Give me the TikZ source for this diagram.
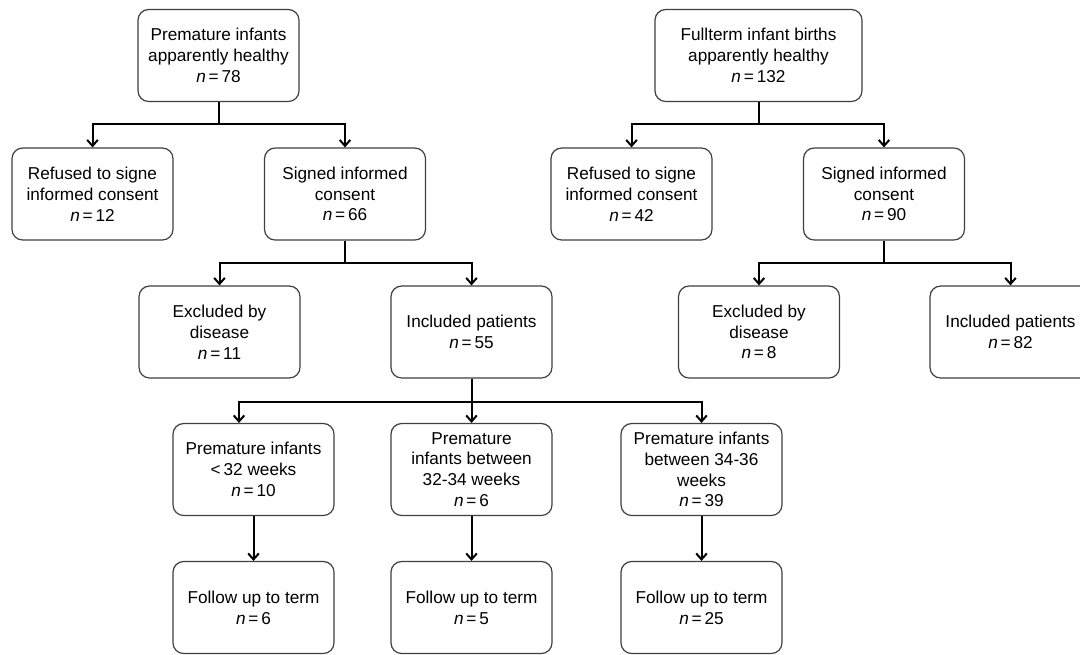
\documentclass[tikz,border=0pt]{standalone}
\usepackage{fontspec}
\setmainfont{Liberation Sans}
\usetikzlibrary{arrows.meta,calc}
\begin{document}
\begin{tikzpicture}[x=0.75pt,y=-0.75pt,
  flowbox/.style={draw=black!75,line width=0.9pt,rounded corners=8pt,
    minimum width=120.75pt,minimum height=69pt,align=center,inner sep=2pt,
    font=\fontsize{12.9}{15.6}\selectfont},
  conn/.style={line width=1.5pt,-{Straight Barb[length=4.5pt,width=8pt]}}]
\clip (0,0) rectangle (1080,654);
\fill[white] (0,0) rectangle (1080,654);
% row 1
\node[flowbox] (b1) at (218.5,55.5) {Premature infants\\apparently healthy\\\textit{n}\,=\,78};
\node[flowbox,minimum width=155.25pt] (b2) at (758.5,55.5) {Fullterm infant births\\apparently healthy\\\textit{n}\,=\,132};
% row 2
\node[flowbox] (r1) at (92.5,194) {Refused to signe\\informed consent\\\textit{n}\,=\,12};
\node[flowbox] (s1) at (345,194) {Signed informed\\consent\\\textit{n}\,=\,66};
\node[flowbox] (r2) at (631.5,194) {Refused to signe\\informed consent\\\textit{n}\,=\,42};
\node[flowbox] (s2) at (884,194) {Signed informed\\consent\\\textit{n}\,=\,90};
% row 3
\node[flowbox] (e1) at (219.5,332) {Excluded by\\disease\\\textit{n}\,=\,11};
\node[flowbox] (i1) at (471.5,332) {Included patients\\\textit{n}\,=\,55};
\node[flowbox] (e2) at (759,332) {Excluded by\\disease\\\textit{n}\,=\,8};
\node[flowbox] (i2) at (1010.5,332) {Included patients\\\textit{n}\,=\,82};
% row 4
\node[flowbox] (p1) at (253.5,469.5) {Premature infants\\<\,32 weeks\\\textit{n}\,=\,10};
\node[flowbox] (p2) at (471.5,469.5) {Premature\\infants between\\32-34 weeks\\\textit{n}\,=\,6};
\node[flowbox] (p3) at (701.5,469.5) {Premature infants\\between 34-36\\weeks\\\textit{n}\,=\,39};
% row 5
\node[flowbox] (f1) at (253.5,607.5) {Follow up to term\\\textit{n}\,=\,6};
\node[flowbox] (f2) at (471.5,607.5) {Follow up to term\\\textit{n}\,=\,5};
\node[flowbox] (f3) at (701.5,607.5) {Follow up to term\\\textit{n}\,=\,25};
% connectors
\draw[conn] (b1.south) -- ++(0,22) -| (r1.north);
\draw[conn] (b1.south) -- ++(0,22) -| (s1.north);
\draw[conn] (b2.south) -- ++(0,22) -| (r2.north);
\draw[conn] (b2.south) -- ++(0,22) -| (s2.north);
\draw[conn] (s1.south) -- ++(0,22) -| (e1.north);
\draw[conn] (s1.south) -- ++(0,22) -| (i1.north);
\draw[conn] (s2.south) -- ++(0,22) -| (e2.north);
\draw[conn] (s2.south) -- ++(0,22) -| (i2.north);
\draw[conn] (i1.south) -- ++(0,23) -| ($(p1.north)+(-14.5,0)$);
\draw[conn] (i1.south) -- (p2.north);
\draw[conn] (i1.south) -- ++(0,23) -| (p3.north);
\draw[conn] (p1.south) -- (f1.north);
\draw[conn] (p2.south) -- (f2.north);
\draw[conn] (p3.south) -- (f3.north);
\end{tikzpicture}
\end{document}
